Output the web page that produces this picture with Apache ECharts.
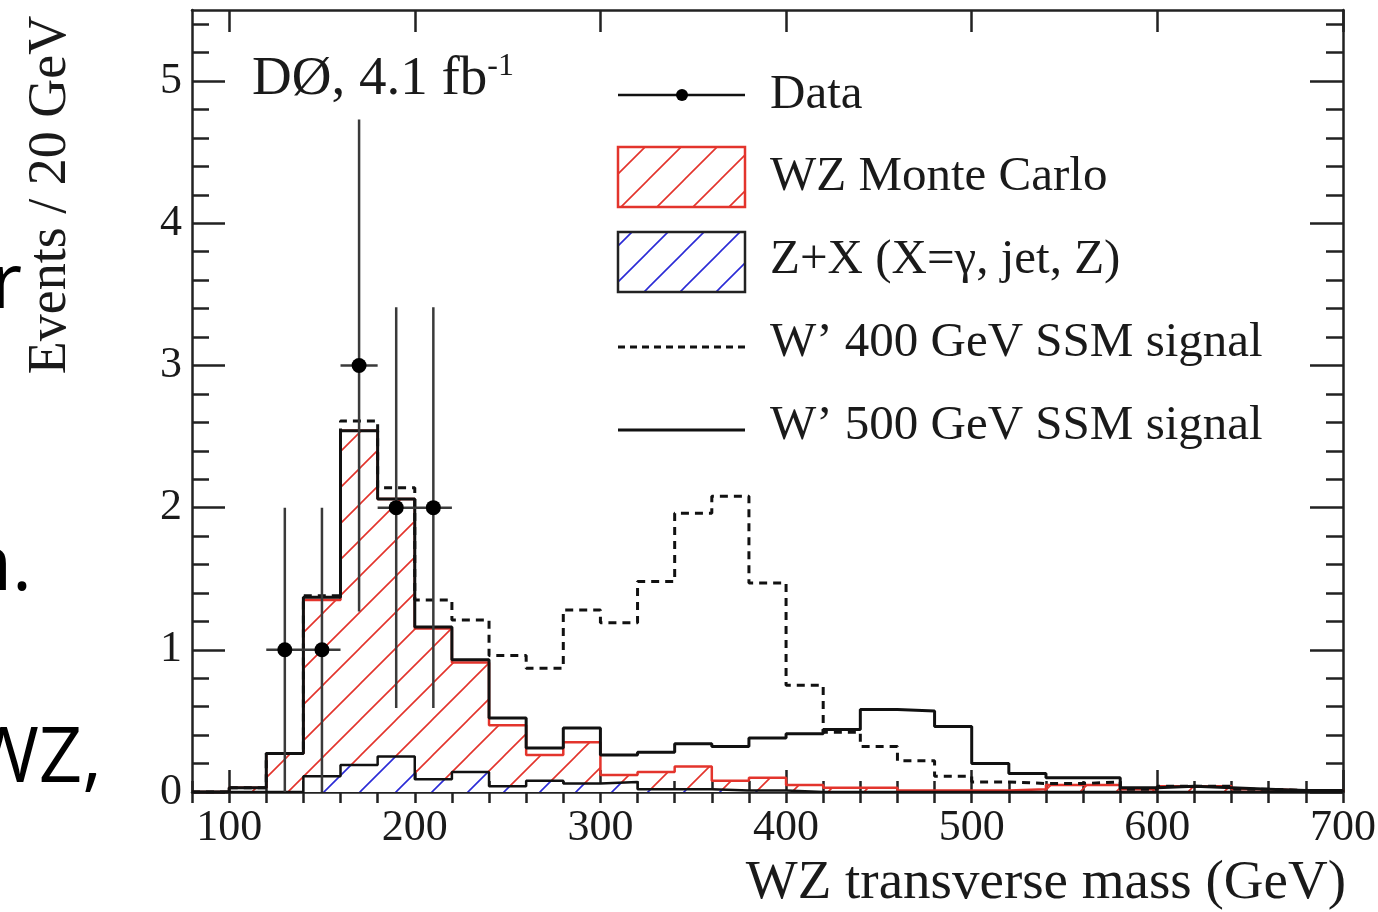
<!DOCTYPE html>
<html><head><meta charset="utf-8">
<script src="https://cdn.jsdelivr.net/npm/echarts@6/dist/echarts.min.js"></script>
<style>html,body{margin:0;padding:0;background:#fff}#c{width:1378px;height:912px}</style>
</head><body><div id="c"></div>
<script>
// ---- data (bin lower edges, 20 GeV bins) ----
const binLow = [100,120,140,160,180,200,220,240,260,280,300,320,340,360,380,400,420,440,460,480,500,520,540,560,580,600,620,640,660,680];
const binWidth = 20;
// total background (WZ Monte Carlo + Z+X), red hatched
const wzTotal = [0.03,0.27,1.35,2.54,2.06,1.15,0.91,0.47,0.26,0.35,0.12,0.14,0.18,0.08,0.10,0.05,0.03,0.03,0.01,0.01,0.01,0.02,0.05,0.05,0.02,0.04,0.04,0.02,0.01,0.01];
// Z+X background, blue hatched
const zPlusX = [0,0,0.11,0.19,0.25,0.09,0.14,0.04,0.08,0.06,0.07,0.02,0.02,0.01,0.01,0,0,0,0,0,0,0,0,0,0,0,0,0,0,0];
// W' 400 GeV SSM signal (stacked on background), dashed
const wp400 = [0.03,0.27,1.38,2.61,2.14,1.35,1.21,0.96,0.87,1.28,1.19,1.48,1.96,2.08,1.47,0.75,0.42,0.32,0.22,0.11,0.07,0.06,0.06,0.07,0.02,0.04,0.04,0.02,0.01,0.01];
// W' 500 GeV SSM signal (stacked on background), solid
const wp500 = [0.03,0.27,1.37,2.54,2.06,1.16,0.93,0.52,0.31,0.45,0.26,0.28,0.34,0.32,0.38,0.41,0.44,0.58,0.57,0.46,0.20,0.13,0.10,0.10,0.03,0.04,0.03,0.02,0.01,0.01];
// data points
const dataX = [130,150,170,190,210];
const dataY = [1,1,3,2,2];
const dataErr = [1.0,1.0,1.73,1.41,1.41];
const dataXErr = 10;
// axis ticks
const xMajorTicks = [100,200,300,400,500,600,700];
const xMinorTicks = [80,100,120,140,160,180,200,220,240,260,280,300,320,340,360,380,400,420,440,460,480,500,520,540,560,580,600,620,640,660,680,700];
const yMajorTicks = [0,1,2,3,4,5];
const yMinorTicks = [0,0.2,0.4,0.6,0.8,1,1.2,1.4,1.6,1.8,2,2.2,2.4,2.6,2.8,3,3.2,3.4,3.6,3.8,4,4.2,4.4,4.6,4.8,5,5.2,5.4];

const SERIF = '"Liberation Serif","DejaVu Serif",serif';
const TXT = '#1a1a1a';

function hatch(color, bg, lw) {
  const S = 36, c = document.createElement('canvas');
  c.width = S; c.height = S;
  const g = c.getContext('2d');
  if (bg) { g.fillStyle = bg; g.fillRect(0, 0, S, S); }
  g.strokeStyle = color; g.lineWidth = lw || 1.6;
  g.beginPath();
  g.moveTo(-4, S + 4); g.lineTo(S + 4, -4);
  g.moveTo(-4, 4); g.lineTo(4, -4);
  g.moveTo(S - 4, S + 4); g.lineTo(S + 4, S - 4);
  g.stroke();
  return c;
}
const redHatch = hatch('#e3342c', null);
const blueHatch = hatch('#2b2bd6', '#ffffff');

function histData(vals) {
  const d = [[80, 0]];
  binLow.forEach((x, i) => d.push([x, vals[i]]));
  d.push([binLow[binLow.length - 1] + binWidth, 0]);
  return d;
}

const chart = echarts.init(document.getElementById('c'), null, {renderer: 'canvas'});

const baseX = {type: 'value', min: 80, max: 700, gridIndex: 0, splitLine: {show: false}};
const baseY = {type: 'value', min: 0, max: 5.5, gridIndex: 0, splitLine: {show: false}};
const axLine = {show: true, onZero: false, lineStyle: {color: '#222', width: 2.5}};
const noLine = {show: false};

const option = {
  animation: false,
  backgroundColor: '#ffffff',
  grid: {left: 192, top: 10, width: 1151, height: 782, containLabel: false, outerBoundsMode: 'none'},
  xAxis: [
    Object.assign({}, baseX, {position: 'bottom', axisLine: axLine,
      axisTick: {show: true, inside: true, length: 22, customValues: xMajorTicks, lineStyle: {color: '#222', width: 2.5}},
      axisLabel: {show: true, customValues: xMajorTicks, margin: 14, fontSize: 44, fontFamily: SERIF, color: TXT}}),
    Object.assign({}, baseX, {position: 'bottom', axisLine: noLine,
      axisTick: {show: true, inside: true, length: 11, customValues: xMinorTicks, lineStyle: {color: '#222', width: 2.5}},
      axisLabel: {show: false}}),
    Object.assign({}, baseX, {position: 'top', axisLine: axLine,
      axisTick: {show: true, inside: true, length: 22, customValues: xMajorTicks, lineStyle: {color: '#222', width: 2.5}},
      axisLabel: {show: false}}),
    Object.assign({}, baseX, {position: 'top', axisLine: noLine,
      axisTick: {show: true, inside: true, length: 11, customValues: xMinorTicks, lineStyle: {color: '#222', width: 2.5}},
      axisLabel: {show: false}})
  ],
  yAxis: [
    Object.assign({}, baseY, {position: 'left', axisLine: axLine,
      axisTick: {show: true, inside: true, length: 33, customValues: yMajorTicks, lineStyle: {color: '#222', width: 2.5}},
      axisLabel: {show: true, customValues: yMajorTicks, margin: 10, fontSize: 44, fontFamily: SERIF, color: TXT}}),
    Object.assign({}, baseY, {position: 'left', axisLine: noLine,
      axisTick: {show: true, inside: true, length: 17, customValues: yMinorTicks, lineStyle: {color: '#222', width: 2.5}},
      axisLabel: {show: false}}),
    Object.assign({}, baseY, {position: 'right', axisLine: axLine,
      axisTick: {show: true, inside: true, length: 33, customValues: yMajorTicks, lineStyle: {color: '#222', width: 2.5}},
      axisLabel: {show: false}}),
    Object.assign({}, baseY, {position: 'right', axisLine: noLine,
      axisTick: {show: true, inside: true, length: 17, customValues: yMinorTicks, lineStyle: {color: '#222', width: 2.5}},
      axisLabel: {show: false}})
  ],
  series: [
    {type: 'line', name: 'WZ Monte Carlo', step: 'end', data: histData(wzTotal), showSymbol: false, symbol: 'none',
      xAxisIndex: 0, yAxisIndex: 0, z: 2,
      lineStyle: {color: '#e3342c', width: 2.5}, areaStyle: {color: {image: redHatch, repeat: 'repeat'}, opacity: 1}},
    {type: 'line', name: 'Z+X (X=γ, jet, Z)', step: 'end', data: histData(zPlusX), showSymbol: false, symbol: 'none',
      xAxisIndex: 0, yAxisIndex: 0, z: 3,
      lineStyle: {color: '#111', width: 2.5}, areaStyle: {color: {image: blueHatch, repeat: 'repeat'}, opacity: 1}},
    {type: 'line', name: "W' 400 GeV SSM signal", step: 'end', data: histData(wp400), showSymbol: false, symbol: 'none',
      xAxisIndex: 0, yAxisIndex: 0, z: 4,
      lineStyle: {color: '#111', width: 3, type: [8, 6]}},
    {type: 'line', name: "W' 500 GeV SSM signal", step: 'end', data: histData(wp500), showSymbol: false, symbol: 'none',
      xAxisIndex: 0, yAxisIndex: 0, z: 5,
      lineStyle: {color: '#111', width: 3}},
    {type: 'custom', name: 'Data', xAxisIndex: 0, yAxisIndex: 0, z: 10,
      data: dataX.map((x, i) => [x, dataY[i], dataErr[i]]),
      encode: {x: 0, y: 1},
      renderItem: function (params, api) {
        const x = api.value(0), y = api.value(1), e = api.value(2);
        const p = api.coord([x, y]);
        const lo = api.coord([x, Math.max(0, y - e)]);
        const hi = api.coord([x, y + e]);
        const l = api.coord([x - dataXErr, y]);
        const r = api.coord([x + dataXErr, y]);
        return {type: 'group', children: [
          {type: 'line', shape: {x1: lo[0], y1: lo[1], x2: hi[0], y2: hi[1]}, style: {stroke: '#3a3a3a', lineWidth: 2.5}},
          {type: 'line', shape: {x1: l[0], y1: l[1], x2: r[0], y2: r[1]}, style: {stroke: '#3a3a3a', lineWidth: 2.5}},
          {type: 'circle', shape: {cx: p[0], cy: p[1], r: 7.5}, style: {fill: '#000'}}
        ]};
      }}
  ],
  graphic: [
    // y axis title
    {type: 'text', x: 51, y: 195, rotation: Math.PI / 2,
      style: {text: 'Events / 20 GeV', font: '54px ' + SERIF, fill: TXT, align: 'center', verticalAlign: 'middle'}},
    // x axis title
    {type: 'text', x: 1346, y: 884,
      style: {text: 'WZ transverse mass (GeV)', font: '55px ' + SERIF, fill: TXT, align: 'right', verticalAlign: 'middle'}},
    // experiment label
    {type: 'text', x: 252, y: 80, z: 20,
      style: {text: 'DØ, 4.1 fb{sup|-1}', font: '55px ' + SERIF, fill: TXT, align: 'left', verticalAlign: 'middle',
        rich: {sup: {fontSize: 32, fontFamily: SERIF, fill: TXT, verticalAlign: 'top', padding: [0, 0, 26, 0]}}}},
    // legend
    {type: 'line', shape: {x1: 618, y1: 95, x2: 745, y2: 95}, style: {stroke: '#111', lineWidth: 2.5}},
    {type: 'circle', shape: {cx: 682, cy: 95, r: 6}, style: {fill: '#000'}},
    {type: 'text', x: 770, y: 95, style: {text: 'Data', font: '49px ' + SERIF, fill: TXT, verticalAlign: 'middle'}},
    {type: 'rect', shape: {x: 618, y: 147, width: 127, height: 60},
      style: {fill: {image: hatch('#e3342c', '#ffffff'), repeat: 'repeat'}, stroke: '#e3342c', lineWidth: 2.5}},
    {type: 'text', x: 770, y: 177, style: {text: 'WZ Monte Carlo', font: '49px ' + SERIF, fill: TXT, verticalAlign: 'middle'}},
    {type: 'rect', shape: {x: 618, y: 232, width: 127, height: 60},
      style: {fill: {image: hatch('#2b2bd6', '#ffffff'), repeat: 'repeat'}, stroke: '#222', lineWidth: 2.5}},
    {type: 'text', x: 770, y: 260, style: {text: 'Z+X (X=γ, jet, Z)', font: '49px ' + SERIF, fill: TXT, verticalAlign: 'middle'}},
    {type: 'line', shape: {x1: 618, y1: 347, x2: 745, y2: 347}, style: {stroke: '#111', lineWidth: 3, lineDash: [7, 5]}},
    {type: 'text', x: 770, y: 343, style: {text: "W’ 400 GeV SSM signal", font: '49px ' + SERIF, fill: TXT, verticalAlign: 'middle'}},
    {type: 'line', shape: {x1: 618, y1: 430, x2: 745, y2: 430}, style: {stroke: '#111', lineWidth: 3}},
    {type: 'text', x: 770, y: 426, style: {text: "W’ 500 GeV SSM signal", font: '49px ' + SERIF, fill: TXT, verticalAlign: 'middle'}},
    // slide text cut off at the left edge
    {type: 'text', x: 22, y: 248, style: {text: 'r', font: '76px "Open Sans", sans-serif', fill: '#000', align: 'right', verticalAlign: 'top'}},
    {type: 'text', x: 32, y: 530, style: {text: 'n.', font: '76px "Open Sans", sans-serif', fill: '#000', align: 'right', verticalAlign: 'top'}},
    {type: 'text', x: 102, y: 722, style: {text: 'WZ,', font: '76px "Open Sans", sans-serif', fill: '#000', align: 'right', verticalAlign: 'top'}}
  ]
};
chart.setOption(option);
</script>
</body></html>
